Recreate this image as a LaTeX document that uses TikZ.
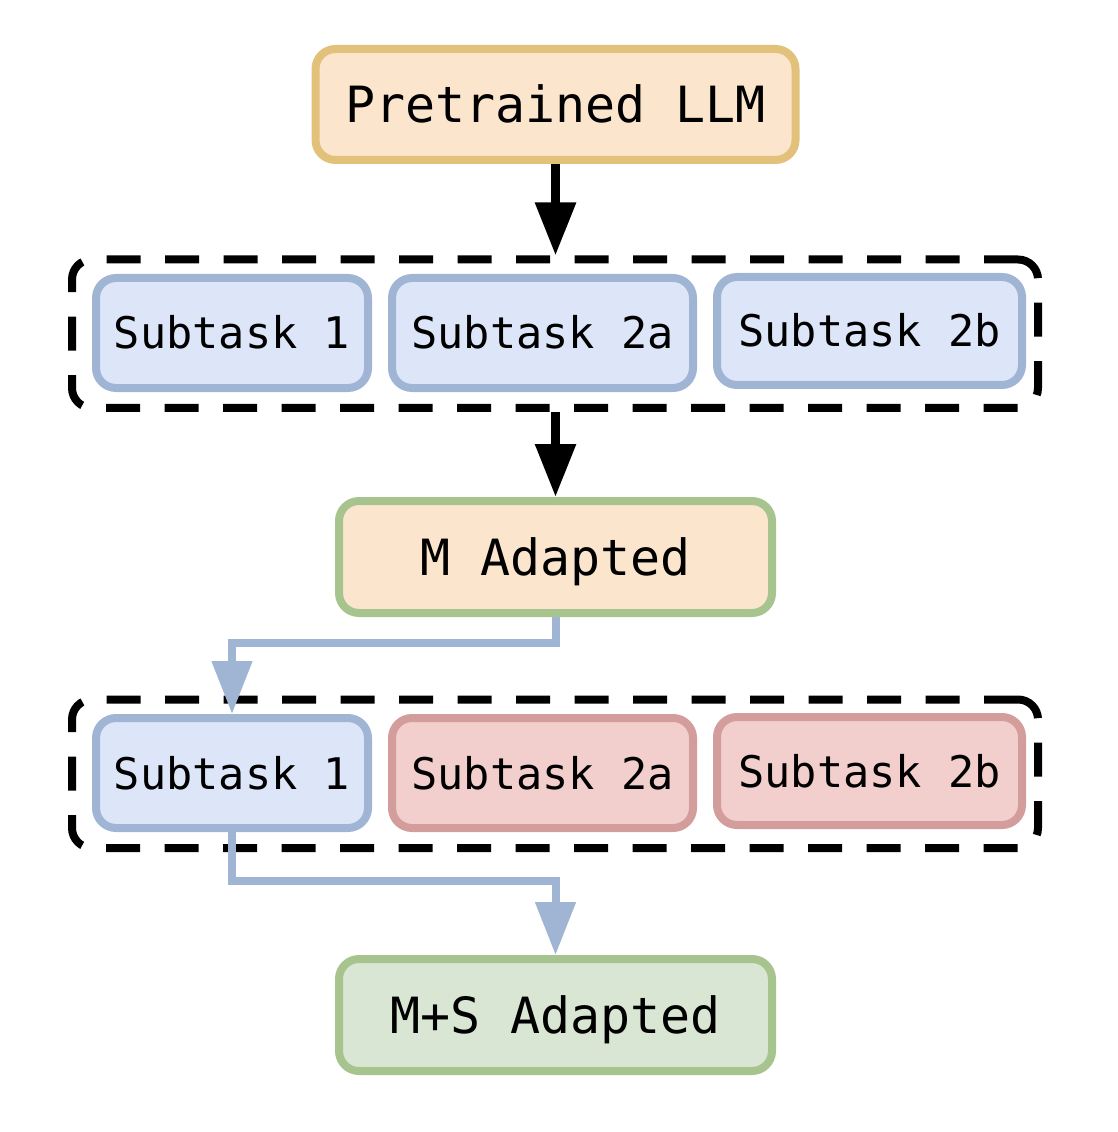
\documentclass[tikz,border=0pt]{standalone}
\usepackage{fontspec}
\setmonofont{DejaVu Sans Mono}
\usepackage{xcolor}
\usetikzlibrary{arrows.meta}

\definecolor{orangefill}{HTML}{FCE5CD}
\definecolor{orangeline}{HTML}{E2C17B}
\definecolor{bluefill}{HTML}{DCE6F8}
\definecolor{blueline}{HTML}{A0B4D4}
\definecolor{redfill}{HTML}{F2CFCC}
\definecolor{redline}{HTML}{D39D9B}
\definecolor{greenfill}{HTML}{D9E6D4}
\definecolor{greenline}{HTML}{A7C48F}

\begin{document}
\begin{tikzpicture}[
	taskbox/.style={draw, line width=0.08cm, rounded corners=0.2cm, inner sep=0pt,
		font=\ttfamily\fontsize{12.4}{15}\selectfont, text height=0.32cm, text depth=0pt,
		minimum height=1.10cm},
	bigbox/.style={taskbox, font=\ttfamily\fontsize{14.2}{17}\selectfont, text height=0.365cm,
		minimum width=4.33cm, minimum height=1.12cm},
	stagebox/.style={draw, dash pattern=on 0.34cm off 0.245cm, line width=0.08cm,
		rounded corners=0.2cm, inner sep=0pt, minimum width=9.66cm, minimum height=1.485cm},
	blackarrow/.style={line width=0.09cm, -{Triangle[length=0.53cm,width=0.39cm]}},
	bluearrow/.style={draw=blueline, line width=0.08cm, -{Triangle[length=0.53cm,width=0.39cm]}}
	]
	
	\useasboundingbox (0,0) rectangle (11.18,-11.32);
	
	% Draw the two dashed stages
	\node[stagebox] (G1) at (5.55,-3.3375) {};
	\node[stagebox] (G2) at (5.55,-7.7375) {};
	
	% Draw nodes
	\node[bigbox, fill=orangefill, draw=orangeline, minimum width=4.80cm, minimum height=1.11cm] (LLM) at (5.555,-1.045) {Pretrained LLM};
	\node[taskbox, fill=bluefill, draw=blueline, minimum width=2.72cm] (SA1) at (2.32,-3.33) {Subtask 1};
	\node[taskbox, fill=bluefill, draw=blueline, minimum width=3.01cm] (SA2a) at (5.425,-3.33) {Subtask 2a};
	\node[taskbox, fill=bluefill, draw=blueline, minimum width=3.05cm, minimum height=1.08cm] (SA2b) at (8.695,-3.31) {Subtask 2b};
	\node[bigbox, fill=orangefill, draw=greenline] (MA) at (5.555,-5.57) {M Adapted};
	\node[taskbox, fill=bluefill, draw=blueline, minimum width=2.72cm] (SB1) at (2.32,-7.73) {Subtask 1};
	\node[taskbox, fill=redfill, draw=redline, minimum width=3.01cm] (SB2a) at (5.425,-7.73) {Subtask 2a};
	\node[taskbox, fill=redfill, draw=redline, minimum width=3.05cm, minimum height=1.08cm] (SB2b) at (8.695,-7.71) {Subtask 2b};
	\node[bigbox, fill=greenfill, draw=greenline] (MSA) at (5.555,-10.15) {M+S Adapted};
	
	% Draw arrows, multi-task stage
	\draw[blackarrow] (LLM.south) -- (LLM.south |- G1.north);
	\draw[blackarrow] (MA.north |- G1.south) -- (MA.north);
	
	% Draw arrows, single-task stage
	\draw[bluearrow] (MA.south) -- ++(0,-0.26) -| (SB1.north);
	\draw[bluearrow] (SB1.south) -- ++(0,-0.49) -| (MSA.north);
	
\end{tikzpicture}
\end{document}
